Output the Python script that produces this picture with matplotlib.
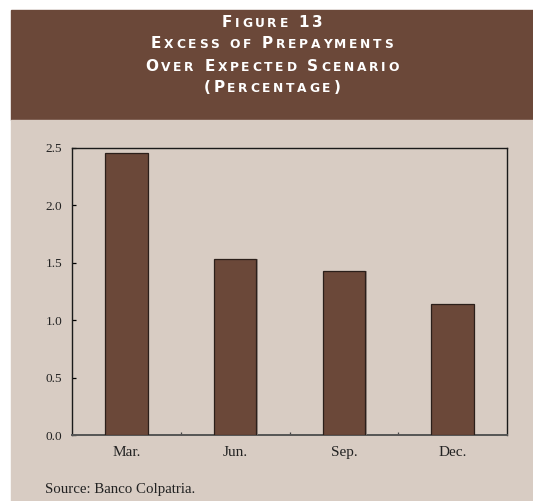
import matplotlib
matplotlib.use("Agg")
from matplotlib import pyplot as plt
from matplotlib.patches import Rectangle
import matplotlib.patheffects as pe

quarters = ["Mar.", "Jun.", "Sep.", "Dec."]
excess = [2.46, 1.53, 1.43, 1.14]
yticks = [0.0, 0.5, 1.0, 1.5, 2.0, 2.5]
title_lines = ["Figure 13", "Excess of Prepayments", "Over Expected Scenario", "(Percentage)"]
source = "Source: Banco Colpatria."

BROWN = "#6b4839"
BEIGE = "#d8ccc3"
W, H = 533, 501

fig = plt.figure(figsize=(W / 100, H / 100), dpi=100)
fig.patch.set_facecolor("white")


def fx(px):
    return px / W


def fy(py):
    return 1 - py / H


# header and panel backgrounds
fig.add_artist(Rectangle((fx(11), fy(120)), fx(W - 11), 110 / H,
                         transform=fig.transFigure, color=BROWN, zorder=0))
fig.add_artist(Rectangle((fx(11), 0), fx(W - 11), fy(120),
                         transform=fig.transFigure, color=BEIGE, zorder=0))

renderer = fig.canvas.get_renderer()


def small_caps(line, baseline_px, big=11, small=8.8, track=2.7, space=8):
    # place each character by hand to fake small caps with wide tracking
    chars = []
    for ch in line:
        if ch == " ":
            chars.append((None, space))
            continue
        size = big if (ch.isupper() or ch.isdigit() or ch in "()") else small
        t = fig.text(0, fy(baseline_px), ch.upper(), fontsize=size, color="white",
                     fontweight="bold", family="DejaVu Sans", va="baseline", ha="left")
        w = t.get_window_extent(renderer).width
        chars.append((t, w + track))
    total = sum(w for _, w in chars) - track
    x = (W + 11) / 2 - total / 2
    for t, w in chars:
        if t is not None:
            t.set_x(fx(x))
        x += w


baselines = [26.7, 48.5, 70.7, 92.3]
for line, b in zip(title_lines, baselines):
    small_caps(line, b)

ax = fig.add_axes([fx(72), fy(435), fx(507 - 72), (435 - 148) / H])
ax.set_facecolor(BEIGE)
pos = range(len(quarters))
bars = ax.bar(pos, excess, width=0.39, color=BROWN, edgecolor="#2b1f1a", linewidth=0.9, zorder=3)
for b in bars:
    b.set_path_effects([pe.SimplePatchShadow(offset=(1.2, 0), shadow_rgbFace="#8a7f7a", alpha=0.8),
                        pe.Normal()])

ax.set_xlim(-0.5, len(quarters) - 0.5)
ax.set_ylim(0, 2.5)
ax.set_yticks(yticks)
ax.set_yticklabels([f"{v:.1f}" for v in yticks], family="Liberation Serif", fontsize=9.5, color="#222222")
ax.tick_params(axis="y", direction="in", length=3, width=0.9, pad=7)

ax.set_xticks([p + 0.5 for p in pos][:-1])
ax.set_xticklabels([])
ax.set_xticks(list(pos), minor=True)
ax.set_xticklabels(quarters, minor=True, family="Liberation Serif", fontsize=11, color="#222222")
ax.tick_params(axis="x", which="major", direction="in", length=2.5, width=0.9, color="#444444")
ax.tick_params(axis="x", which="minor", length=0, pad=8)

for s in ["left", "right", "top"]:
    ax.spines[s].set_linewidth(1.0)
    ax.spines[s].set_color("#1a1a1a")
ax.spines["bottom"].set_linewidth(1.4)
ax.spines["bottom"].set_color("#555555")

fig.text(fx(45), fy(490), source, family="Liberation Serif", fontsize=10.7,
         color="#222222", va="center", ha="left")

fig.savefig("out.png", dpi=100, facecolor=fig.get_facecolor())
